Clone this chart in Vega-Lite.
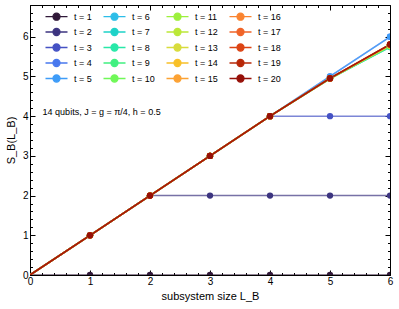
{
  "$schema": "https://vega.github.io/schema/vega-lite/v6.json",
  "width": 360,
  "height": 270,
  "autosize": "none",
  "padding": {"left": 30, "top": 5, "right": 9, "bottom": 34},
  "background": "white",
  "config": {
    "view": {"stroke": "black", "strokeWidth": 1},
    "font": "Liberation Sans",
    "axis": {"domainColor": "black", "tickColor": "black", "labelColor": "black", "titleColor": "black", "labelFont": "Liberation Sans", "titleFont": "Liberation Sans", "labelFontSize": 10, "titleFontSize": 11, "titleFontWeight": "normal", "grid": false}
  },
  "data": {"values": [
    {"t":1,"L":0,"S":0},{"t":1,"L":1,"S":0},{"t":1,"L":2,"S":0},{"t":1,"L":3,"S":0},{"t":1,"L":4,"S":0},{"t":1,"L":5,"S":0},{"t":1,"L":6,"S":0},
    {"t":2,"L":0,"S":0},{"t":2,"L":1,"S":1},{"t":2,"L":2,"S":2},{"t":2,"L":3,"S":2},{"t":2,"L":4,"S":2},{"t":2,"L":5,"S":2},{"t":2,"L":6,"S":2},
    {"t":3,"L":0,"S":0},{"t":3,"L":1,"S":1},{"t":3,"L":2,"S":2},{"t":3,"L":3,"S":3},{"t":3,"L":4,"S":4},{"t":3,"L":5,"S":4},{"t":3,"L":6,"S":4},
    {"t":4,"L":0,"S":0},{"t":4,"L":1,"S":1},{"t":4,"L":2,"S":2},{"t":4,"L":3,"S":3},{"t":4,"L":4,"S":4},{"t":4,"L":5,"S":5},{"t":4,"L":6,"S":6},
    {"t":5,"L":0,"S":0},{"t":5,"L":1,"S":1},{"t":5,"L":2,"S":2},{"t":5,"L":3,"S":3},{"t":5,"L":4,"S":4},{"t":5,"L":5,"S":5},{"t":5,"L":6,"S":6},
    {"t":6,"L":0,"S":0},{"t":6,"L":1,"S":1},{"t":6,"L":2,"S":2},{"t":6,"L":3,"S":3},{"t":6,"L":4,"S":4},{"t":6,"L":5,"S":4.95},{"t":6,"L":6,"S":5.74},
    {"t":7,"L":0,"S":0},{"t":7,"L":1,"S":1},{"t":7,"L":2,"S":2},{"t":7,"L":3,"S":3},{"t":7,"L":4,"S":4},{"t":7,"L":5,"S":4.94},{"t":7,"L":6,"S":5.75},
    {"t":8,"L":0,"S":0},{"t":8,"L":1,"S":1},{"t":8,"L":2,"S":2},{"t":8,"L":3,"S":3},{"t":8,"L":4,"S":4},{"t":8,"L":5,"S":4.95},{"t":8,"L":6,"S":5.74},
    {"t":9,"L":0,"S":0},{"t":9,"L":1,"S":1},{"t":9,"L":2,"S":2},{"t":9,"L":3,"S":3},{"t":9,"L":4,"S":4},{"t":9,"L":5,"S":4.94},{"t":9,"L":6,"S":5.75},
    {"t":10,"L":0,"S":0},{"t":10,"L":1,"S":1},{"t":10,"L":2,"S":2},{"t":10,"L":3,"S":3},{"t":10,"L":4,"S":4},{"t":10,"L":5,"S":4.95},{"t":10,"L":6,"S":5.76},
    {"t":11,"L":0,"S":0},{"t":11,"L":1,"S":1},{"t":11,"L":2,"S":2},{"t":11,"L":3,"S":3},{"t":11,"L":4,"S":4},{"t":11,"L":5,"S":4.95},{"t":11,"L":6,"S":5.77},
    {"t":12,"L":0,"S":0},{"t":12,"L":1,"S":1},{"t":12,"L":2,"S":2},{"t":12,"L":3,"S":3},{"t":12,"L":4,"S":4},{"t":12,"L":5,"S":4.94},{"t":12,"L":6,"S":5.78},
    {"t":13,"L":0,"S":0},{"t":13,"L":1,"S":1},{"t":13,"L":2,"S":2},{"t":13,"L":3,"S":3},{"t":13,"L":4,"S":4},{"t":13,"L":5,"S":4.95},{"t":13,"L":6,"S":5.78},
    {"t":14,"L":0,"S":0},{"t":14,"L":1,"S":1},{"t":14,"L":2,"S":2},{"t":14,"L":3,"S":3},{"t":14,"L":4,"S":4},{"t":14,"L":5,"S":4.95},{"t":14,"L":6,"S":5.79},
    {"t":15,"L":0,"S":0},{"t":15,"L":1,"S":1},{"t":15,"L":2,"S":2},{"t":15,"L":3,"S":3},{"t":15,"L":4,"S":4},{"t":15,"L":5,"S":4.95},{"t":15,"L":6,"S":5.8},
    {"t":16,"L":0,"S":0},{"t":16,"L":1,"S":1},{"t":16,"L":2,"S":2},{"t":16,"L":3,"S":3},{"t":16,"L":4,"S":4},{"t":16,"L":5,"S":4.96},{"t":16,"L":6,"S":5.8},
    {"t":17,"L":0,"S":0},{"t":17,"L":1,"S":1},{"t":17,"L":2,"S":2},{"t":17,"L":3,"S":3},{"t":17,"L":4,"S":4},{"t":17,"L":5,"S":4.95},{"t":17,"L":6,"S":5.81},
    {"t":18,"L":0,"S":0},{"t":18,"L":1,"S":1},{"t":18,"L":2,"S":2},{"t":18,"L":3,"S":3},{"t":18,"L":4,"S":4},{"t":18,"L":5,"S":4.95},{"t":18,"L":6,"S":5.8},
    {"t":19,"L":0,"S":0},{"t":19,"L":1,"S":1},{"t":19,"L":2,"S":2},{"t":19,"L":3,"S":3},{"t":19,"L":4,"S":4},{"t":19,"L":5,"S":4.96},{"t":19,"L":6,"S":5.81},
    {"t":20,"L":0,"S":0},{"t":20,"L":1,"S":1},{"t":20,"L":2,"S":2},{"t":20,"L":3,"S":3},{"t":20,"L":4,"S":4},{"t":20,"L":5,"S":4.95},{"t":20,"L":6,"S":5.81}
  ]},
  "resolve": {"axis": {"x": "independent", "y": "independent"}},
  "layer": [
    {
      "mark": {"type": "line", "strokeWidth": 1.5, "opacity": 0.7, "clip": true},
      "encoding": {
        "x": {"field": "L", "type": "quantitative", "scale": {"domain": [0, 6], "nice": false},
          "axis": {"orient": "bottom", "title": "subsystem size L_B", "titlePadding": 2,
            "values": [0,0.2,0.4,0.6,0.8,1,1.2,1.4,1.6,1.8,2,2.2,2.4,2.6,2.8,3,3.2,3.4,3.6,3.8,4,4.2,4.4,4.6,4.8,5,5.2,5.4,5.6,5.8,6],
            "labelExpr": "abs(datum.value - round(datum.value)) < 0.001 ? format(datum.value, 'd') : ''",
            "tickSize": {"condition": {"test": "abs(datum.value - round(datum.value)) < 0.001", "value": -5}, "value": -2.5},
            "labelPadding": 6, "labelFlush": false, "labelOverlap": false}},
        "y": {"field": "S", "type": "quantitative", "scale": {"domain": [0, 6.8], "nice": false},
          "axis": {"orient": "left", "title": "S_B(L_B)", "titlePadding": 6,
            "values": [0,0.2,0.4,0.6,0.8,1,1.2,1.4,1.6,1.8,2,2.2,2.4,2.6,2.8,3,3.2,3.4,3.6,3.8,4,4.2,4.4,4.6,4.8,5,5.2,5.4,5.6,5.8,6,6.2,6.4,6.6,6.8],
            "labelExpr": "abs(datum.value - round(datum.value)) < 0.001 ? format(datum.value, 'd') : ''",
            "tickSize": {"condition": {"test": "abs(datum.value - round(datum.value)) < 0.001", "value": -5}, "value": -2.5},
            "labelPadding": 7, "labelFlush": false, "labelOverlap": false}},
        "color": {"field": "t", "type": "nominal",
          "scale": {
            "domain": [1,2,3,4,5,6,7,8,9,10,11,12,13,14,15,16,17,18,19,20],
            "range": ["#301838","#3d3580","#4552c4","#4878ee","#3e9cf8","#2cbde8","#1ed2c8","#28e8a8","#40f080","#70f858","#9cf03c","#bce838","#d8dc3c","#f8c028","#fca234","#fa8430","#f06428","#dc4414","#b82808","#961008"]
          },
          "legend": {"orient": "none", "legendX": 22, "legendY": 7, "columns": 4, "title": null,
            "symbolType": "M-5.5,0H5.5M-1.75,0A1.75,1.75,0,1,1,1.75,0A1.75,1.75,0,1,1,-1.75,0",
            "symbolSize": 16, "symbolStrokeWidth": 1.3, "symbolOpacity": 1,
            "labelExpr": "'t = ' + datum.label", "labelFontSize": 9, "labelFont": "Liberation Sans",
            "labelOffset": 13, "columnPadding": 8, "rowPadding": 2.5}},
        "order": {"field": "L", "type": "quantitative"},
        "detail": {"field": "t"}
      }
    },
    {
      "transform": [{"filter": "datum.L > 0"}],
      "mark": {"type": "point", "filled": true, "size": 40, "opacity": 1, "clip": true},
      "encoding": {
        "x": {"field": "L", "type": "quantitative",
          "axis": {"orient": "top", "title": null, "labels": false, "domain": false,
            "values": [0,0.2,0.4,0.6,0.8,1,1.2,1.4,1.6,1.8,2,2.2,2.4,2.6,2.8,3,3.2,3.4,3.6,3.8,4,4.2,4.4,4.6,4.8,5,5.2,5.4,5.6,5.8,6],
            "tickSize": {"condition": {"test": "abs(datum.value - round(datum.value)) < 0.001", "value": -5}, "value": -2.5}}},
        "y": {"field": "S", "type": "quantitative",
          "axis": {"orient": "right", "title": null, "labels": false, "domain": false,
            "values": [0,0.2,0.4,0.6,0.8,1,1.2,1.4,1.6,1.8,2,2.2,2.4,2.6,2.8,3,3.2,3.4,3.6,3.8,4,4.2,4.4,4.6,4.8,5,5.2,5.4,5.6,5.8,6,6.2,6.4,6.6,6.8],
            "tickSize": {"condition": {"test": "abs(datum.value - round(datum.value)) < 0.001", "value": -5}, "value": -2.5}}},
        "color": {"field": "t", "type": "nominal"}
      }
    },
    {
      "data": {"values": [{"x": 0.21, "y": 4.1, "label": "14 qubits, J = g = π/4, h = 0.5"}]},
      "mark": {"type": "text", "align": "left", "baseline": "middle", "fontSize": 9, "font": "Liberation Sans", "color": "black"},
      "encoding": {
        "x": {"field": "x", "type": "quantitative", "axis": null},
        "y": {"field": "y", "type": "quantitative", "axis": null},
        "text": {"field": "label"}
      }
    }
  ]
}
